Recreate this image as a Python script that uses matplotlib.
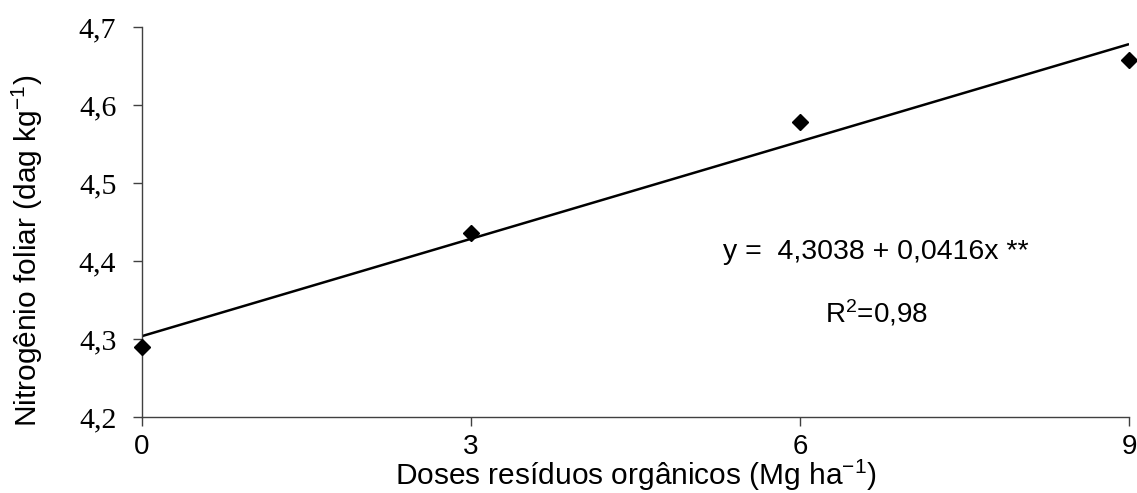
import matplotlib
matplotlib.use("Agg")
import matplotlib.pyplot as plt
import numpy as np

doses = [0, 3, 6, 9]
nitrogen = [4.29, 4.436, 4.578, 4.658]
intercept = 4.3038
slope = 0.0416
x_ticks = [0, 3, 6, 9]
y_ticks = [4.2, 4.3, 4.4, 4.5, 4.6, 4.7]

plt.rcParams['mathtext.fontset'] = 'custom'
plt.rcParams['mathtext.rm'] = 'Liberation Sans'
plt.rcParams['mathtext.it'] = 'Liberation Sans'
plt.rcParams['mathtext.default'] = 'rm'

fig = plt.figure(figsize=(11.37, 4.93), dpi=100)
ax = fig.add_axes([0.1249, 0.154, 0.993 - 0.1249, 0.945 - 0.154])

xl = np.array([doses[0], doses[-1]])
ax.plot(xl, intercept + slope * xl, color='black', lw=1.8, solid_capstyle='butt')
ax.plot(doses, nitrogen, linestyle='none', marker='D', markersize=8.5, color='black', clip_on=False, zorder=5)

ax.set_xlim(0, 9)
ax.set_ylim(4.2, 4.7)
ax.set_xticks(x_ticks)
ax.set_xticklabels([str(v) for v in x_ticks], family='Liberation Sans', fontsize=20)
ax.set_yticks(y_ticks)
ax.set_yticklabels([f"{v:.1f}".replace('.', ',') for v in y_ticks], family='Liberation Serif', fontsize=21.5)
for s in ['top', 'right']:
    ax.spines[s].set_visible(False)
for s in ['left', 'bottom']:
    ax.spines[s].set_color('#404040')
    ax.spines[s].set_linewidth(1.0)
ax.tick_params(axis='both', direction='out', length=6.5, width=1.0, color='#404040')
ax.tick_params(axis='x', pad=6)
ax.tick_params(axis='y', pad=12)

ax.set_xlabel('Doses resíduos orgânicos (Mg ha$^{-1}$)', family='Liberation Sans', fontsize=21.5)
ax.xaxis.set_label_coords(0.5, -0.105)
ax.set_ylabel('Nitrogênio foliar (dag kg$^{-1}$)', family='Liberation Sans', fontsize=21.5)
ax.yaxis.set_label_coords(-0.098, 0.426)

ax.text(0.743, 0.423, 'y =  4,3038 + 0,0416x **', transform=ax.transAxes, ha='center', va='center',
        family='Liberation Sans', fontsize=20.5)
ax.text(0.744, 0.267, 'R$^2$=0,98', transform=ax.transAxes, ha='center', va='center',
        family='Liberation Sans', fontsize=20)

fig.savefig('out.png', dpi=100)
